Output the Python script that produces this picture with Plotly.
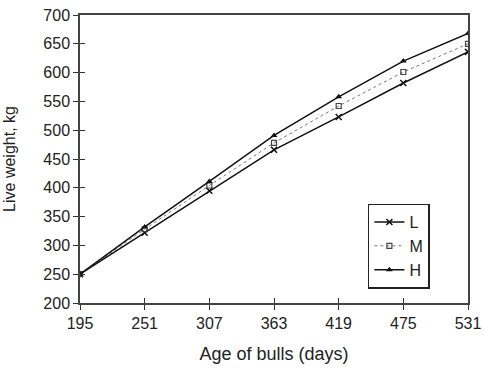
import plotly.graph_objects as go

age_days = [195, 251, 307, 363, 419, 475, 531]
weight_L = [250, 322, 395, 466, 523, 582, 636]
weight_M = [250, 328, 404, 478, 542, 601, 650]
weight_H = [250, 332, 411, 491, 558, 620, 668]
y_ticks = [200, 250, 300, 350, 400, 450, 500, 550, 600, 650, 700]

FAM = "Liberation Sans, Arial, sans-serif"

fig = go.Figure()
fig.add_trace(go.Scatter(x=age_days, y=weight_L, name="L", mode="lines+markers",
                         line=dict(color="#111", width=1.5),
                         marker=dict(symbol="x-thin", size=6, color="#111",
                                     line=dict(color="#111", width=1.5))))
fig.add_trace(go.Scatter(x=age_days, y=weight_M, name="M", mode="lines+markers",
                         line=dict(color="#777", width=1, dash="dot"),
                         marker=dict(symbol="square-open", size=5, color="#444",
                                     line=dict(color="#444", width=1.2))))
fig.add_trace(go.Scatter(x=age_days, y=weight_H, name="H", mode="lines+markers",
                         line=dict(color="#111", width=1.5),
                         marker=dict(symbol="triangle-up", size=6, color="#111")))
# invisible trace to create overlay axes for crossing ticks
fig.add_trace(go.Scatter(x=[age_days[0]], y=[weight_L[0]], xaxis="x2", yaxis="y2",
                         mode="markers", marker=dict(opacity=0), showlegend=False,
                         hoverinfo="skip"))

fig.update_layout(
    width=484, height=368,
    margin=dict(l=80, r=16, t=15, b=65),
    paper_bgcolor="white", plot_bgcolor="white",
    font=dict(family=FAM, size=16, color="#222"),
    showlegend=True,
    legend=dict(x=0.742, y=0.345, xanchor="left", yanchor="top",
                bordercolor="#222", borderwidth=1.5, bgcolor="white",
                font=dict(family=FAM, size=16, color="#222"),
                tracegroupgap=0, itemwidth=30),
    xaxis=dict(range=[195, 531], tickvals=age_days, ticks="outside", ticklen=5,
               tickwidth=1.2, tickcolor="#333", showline=True, linecolor="#444",
               linewidth=1.5, mirror=True, showgrid=False, zeroline=False,
               automargin=False,
               tickfont=dict(family=FAM, size=16, color="#222"),
               title=dict(text="Age of bulls (days)", standoff=16,
                          font=dict(family=FAM, size=18, color="#222"))),
    yaxis=dict(range=[200, 700], tickvals=y_ticks, ticks="outside", ticklen=5,
               tickwidth=1.2, tickcolor="#333", showline=True, linecolor="#444",
               linewidth=1.5, mirror=True, showgrid=False, zeroline=False,
               automargin=False,
               tickfont=dict(family=FAM, size=16, color="#222"),
               title=dict(text="Live weight, kg", standoff=24,
                          font=dict(family=FAM, size=16, color="#222"))),
    xaxis2=dict(range=[195, 531], tickvals=age_days, ticks="inside", ticklen=5,
                tickwidth=1.2, tickcolor="#333", showticklabels=False, overlaying="x",
                side="bottom", showgrid=False, zeroline=False, showline=False,
                automargin=False),
    yaxis2=dict(range=[200, 700], tickvals=y_ticks, ticks="inside", ticklen=5,
                tickwidth=1.2, tickcolor="#333", showticklabels=False, overlaying="y",
                side="left", showgrid=False, zeroline=False, showline=False,
                automargin=False),
)

fig.write_html("out.html")
